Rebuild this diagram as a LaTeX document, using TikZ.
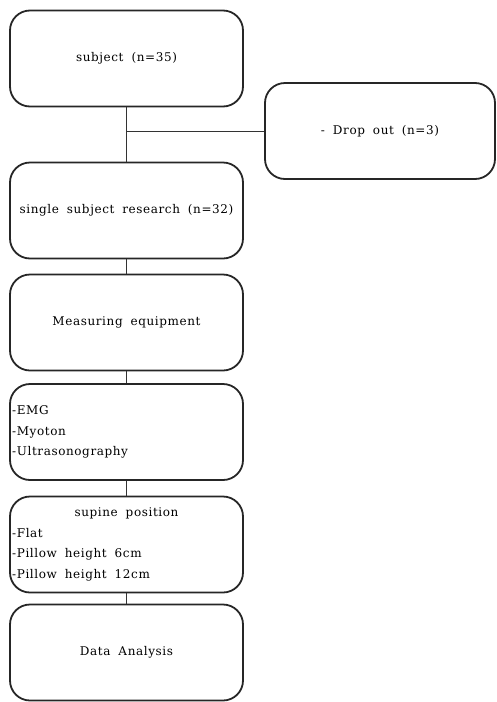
\documentclass[tikz,border=0pt]{standalone}
\usepackage{fontspec}
\setmainfont{DejaVu Serif}[LetterSpace=5,WordSpace=1.8]
\begin{document}
\begin{tikzpicture}[x=1pt,y=-1pt,
  box/.style={draw=black!85,line width=1.8pt,rounded corners=20pt,minimum width=233pt,minimum height=96pt,inner sep=0pt,font=\fontsize{12}{20.5}\selectfont},
  txt/.style={inner sep=0pt,align=left,font=\fontsize{12}{20.5}\selectfont},
  link/.style={draw=black!80,line width=0.8pt}]
\useasboundingbox (0,0) rectangle (496,702);
\node[box] (b1) at (126.5,58.5) {subject (n=35)};
\node[box,minimum width=230pt,minimum height=96pt] (drop) at (380,131) {- Drop out (n=3)};
\node[box] (b2) at (126.5,210.5) {single subject research (n=32)};
\node[box] (b3) at (126.5,322.5) {Measuring equipment};
\node[box] (b4) at (126.5,432) {};
\node[txt,anchor=west] (b4t) at (12,432) {-EMG\\-Myoton\\-Ultrasonography};
\node[box] (b5) at (126.5,544.5) {};
\node[txt] (b5h) at (126.5,513) {supine position};
\node[txt,anchor=west] (b5t) at (12,554.5) {-Flat\\-Pillow height 6cm\\-Pillow height 12cm};
\node[box] (b6) at (126.5,652.5) {Data Analysis};
\coordinate (j) at (126.5,131);
\draw[link] (b1.south) -- (b2.north);
\draw[link] (j) -- (drop.west);
\draw[link] (b2.south) -- (b3.north);
\draw[link] (b3.south) -- (b4.north);
\draw[link] (b4.south) -- (b5.north);
\draw[link] (b5.south) -- (b6.north);
\end{tikzpicture}
\end{document}
